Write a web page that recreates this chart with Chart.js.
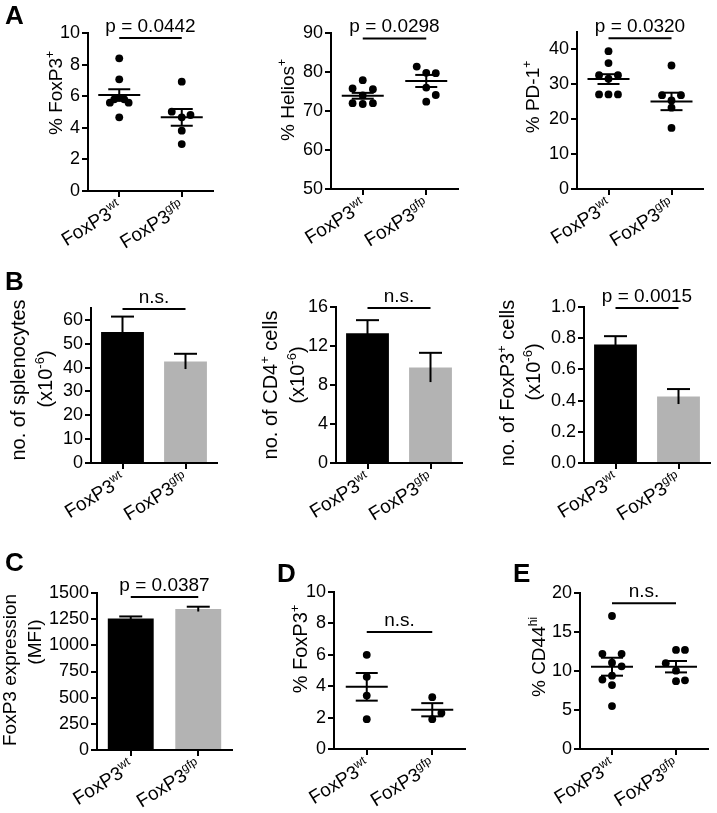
<!DOCTYPE html>
<html><head><meta charset="utf-8">
<script src="https://cdn.jsdelivr.net/npm/chart.js@4.4.1/dist/chart.umd.min.js"></script>
<style>
html,body{margin:0;padding:0;background:#fff;}
#wrap{position:relative;width:717px;height:813px;overflow:hidden;background:#fff;}
canvas{position:absolute;}
</style></head><body><div id="wrap"></div>
<script>
// ---------- categories ----------
const groupBase = 'FoxP3';
const groupSup = ['wt', 'gfp'];

// ---------- Panel A: dot plots ----------
const aFoxp3Wt = [8.4, 7.07, 5.59, 5.8, 5.9, 5.8, 5.59, 4.66];
const aFoxp3Gfp = [6.92, 5.02, 4.66, 4.81, 3.82, 2.97];
const aFoxp3Mean = [6.08, 4.66];
const aFoxp3Sem = [0.36, 0.53];
const aFoxp3Ticks = [0, 2, 4, 6, 8, 10];

const aHeliosWt = [77.9, 75.8, 75.6, 74.0, 72.0, 71.8, 72.0];
const aHeliosGfp = [81.4, 79.8, 79.7, 76.0, 74.1, 72.4];
const aHeliosMean = [73.9, 77.7];
const aHeliosSem = [0.75, 1.55];
const aHeliosTicks = [50, 60, 70, 80, 90];

const aPd1Wt = [39.5, 36.1, 32.6, 31.6, 32.6, 27.1, 27.1, 27.1];
const aPd1Gfp = [35.4, 26.9, 25.4, 26.9, 23.3, 17.5];
const aPd1Mean = [31.5, 25.1];
const aPd1Sem = [1.4, 2.5];
const aPd1Ticks = [0, 10, 20, 30, 40];

// ---------- Panel B: bar charts ----------
const bSplenoMean = [54.9, 42.6];
const bSplenoSem = [6.5, 3.2];
const bSplenoTicks = [0, 10, 20, 30, 40, 50, 60];

const bCd4Mean = [13.3, 9.8];
const bCd4Sem = [1.35, 1.5];
const bCd4Ticks = [0, 4, 8, 12, 16];

const bFoxp3Mean = [0.76, 0.426];
const bFoxp3Sem = [0.053, 0.048];
const bFoxp3Ticks = [0, 0.2, 0.4, 0.6, 0.8, 1.0];

// ---------- Panel C: bar chart ----------
const cMfiMean = [1256, 1346];
const cMfiSem = [20, 23];
const cMfiTicks = [0, 250, 500, 750, 1000, 1250, 1500];

// ---------- Panel D: dot plot ----------
const dFoxp3Wt = [6.0, 4.6, 3.4, 1.9];
const dFoxp3Gfp = [3.3, 2.3, 1.9];
const dFoxp3Mean = [3.96, 2.5];
const dFoxp3Sem = [0.88, 0.42];
const dFoxp3Ticks = [0, 2, 4, 6, 8, 10];

// ---------- Panel E: dot plot ----------
const eCd44Wt = [17.05, 12.2, 12.2, 11.06, 10.6, 8.9, 9.4, 8.2, 5.5];
const eCd44Gfp = [12.7, 12.7, 11.0, 10.04, 8.7, 8.8];
const eCd44Mean = [10.55, 10.55];
const eCd44Sem = [1.15, 0.73];
const eCd44Ticks = [0, 5, 10, 15, 20];

// ---------- significance labels ----------
const sigLabels = ['p = 0.0442', 'p = 0.0298', 'p = 0.0320', 'n.s.', 'n.s.', 'p = 0.0015', 'p = 0.0387', 'n.s.', 'n.s.'];

// ---------- styling: horizontal dot spread (fraction of category spacing) ----------
const spread = {
  aFoxp3Wt: [0, 0, -0.15, -0.08, 0, 0.08, 0.15, 0],
  aFoxp3Gfp: [0, -0.16, 0, 0.14, 0, 0],
  aHeliosWt: [0, -0.16, 0.16, 0, -0.16, 0, 0.16],
  aHeliosGfp: [-0.15, 0, 0.15, 0, 0.15, 0],
  aPd1Wt: [0, 0, -0.15, 0, 0.15, -0.15, 0, 0.15],
  aPd1Gfp: [0, -0.15, 0, 0.15, 0, 0],
  dFoxp3Wt: [0, 0, 0, 0],
  dFoxp3Gfp: [0, 0.14, 0],
  eCd44Wt: [0, -0.15, 0.15, 0, 0.15, -0.15, 0, 0, 0],
  eCd44Gfp: [0, 0.14, -0.16, 0, 0, 0.14]
};

const FONT = '"Liberation Sans", Arial, Helvetica, sans-serif';
function fnt(size, bold) { return (bold ? 'bold ' : '') + size + 'px ' + FONT; }
Chart.defaults.font.family = FONT;
Chart.defaults.color = '#000';

function drawRich(ctx, segs, size, x, y, angle, align, baseShift) {
  ctx.save();
  ctx.translate(x, y);
  ctx.rotate(angle);
  const supSize = Math.round(size * 0.64);
  let w = 0;
  const ws = segs.map(s => { ctx.font = fnt(s.sup ? supSize : size); const m = ctx.measureText(s.t).width; w += m; return m; });
  let cx = align === 'center' ? -w / 2 : (align === 'right' ? -w : 0);
  ctx.textAlign = 'left'; ctx.textBaseline = 'alphabetic'; ctx.fillStyle = '#000';
  segs.forEach((s, i) => {
    ctx.font = fnt(s.sup ? supSize : size);
    ctx.fillText(s.t, cx, baseShift + (s.sup ? -size * 0.4 : 0));
    cx += ws[i];
  });
  ctx.restore();
}

const wrap = document.getElementById('wrap');
const YW = 60, XH = 10;
const TICK_FONT = 18;
const SIG_FONT = 19;
const XLAB_FONT = 19;

function makePanel(cfg) {
  const [px, py, pw, ph] = cfg.box;
  const [x0, y0, x1, y1] = cfg.plot;
  const cv = document.createElement('canvas');
  cv.width = pw; cv.height = ph;
  cv.style.left = px + 'px'; cv.style.top = py + 'px';
  cv.style.width = pw + 'px'; cv.style.height = ph + 'px';
  wrap.appendChild(cv);
  const padding = { left: x0 - px - YW, top: y0 - py, right: px + pw - x1, bottom: py + ph - y1 - XH };
  const isBar = cfg.kind === 'bar';

  const axisCommon = {
    grid: { drawOnChartArea: false, color: '#000', lineWidth: 2, tickLength: 6 },
    border: { display: true, color: '#000', width: 2 }
  };

  const yScale = Object.assign({
    type: 'linear', min: cfg.yMin, max: cfg.yMax,
    afterFit: s => { s.width = YW; },
    afterBuildTicks: s => { s.ticks = cfg.yTicks.map(v => ({ value: v })); },
    ticks: { color: '#000', font: { size: TICK_FONT }, padding: 2,
      callback: v => (cfg.fmt ? Number(v).toFixed(cfg.fmt) : String(v)) }
  }, axisCommon);

  let xScale;
  if (isBar) {
    xScale = Object.assign({}, axisCommon, {
      type: 'category', offset: true,
      afterFit: s => { s.height = XH; },
      ticks: { display: false },
      grid: Object.assign({}, axisCommon.grid, { offset: false })
    });
  } else {
    xScale = Object.assign({
      type: 'linear', min: 0.5, max: 2.5,
      afterFit: s => { s.height = XH; },
      afterBuildTicks: s => { s.ticks = [{ value: 1 }, { value: 2 }]; },
      ticks: { display: false }
    }, axisCommon);
  }

  let data;
  if (isBar) {
    data = {
      labels: groupSup,
      datasets: [{ data: cfg.mean, backgroundColor: ['#000000', '#b3b3b3'], borderWidth: 0,
        barPercentage: 0.68, categoryPercentage: 1 }]
    };
  } else {
    data = {
      datasets: cfg.groups.map((g, gi) => ({
        data: g.map((v, k) => ({ x: gi + 1 + cfg.spread[gi][k], y: v })),
        pointRadius: 3.9, pointBackgroundColor: '#000', pointBorderWidth: 0,
        pointHoverRadius: 3.9, showLine: false, clip: false
      }))
    };
  }

  const deco = {
    id: 'deco',
    afterDraw(chart) {
      const ctx = chart.ctx;
      const xs = chart.scales.x, ys = chart.scales.y;
      const cxOf = i => isBar ? chart.getDatasetMeta(0).data[i].x : xs.getPixelForValue(i + 1);
      ctx.save();
      ctx.strokeStyle = '#000'; ctx.lineWidth = 2; ctx.lineCap = 'butt';
      const line = (a, b, c, d) => { ctx.beginPath(); ctx.moveTo(a, b); ctx.lineTo(c, d); ctx.stroke(); };
      for (let i = 0; i < 2; i++) {
        const cx = cxOf(i);
        const m = ys.getPixelForValue(cfg.mean[i]);
        const u = ys.getPixelForValue(cfg.mean[i] + cfg.sem[i]);
        const l = ys.getPixelForValue(cfg.mean[i] - cfg.sem[i]);
        if (isBar) {
          line(cx, l, cx, u);
          line(cx - 11.5, u, cx + 11.5, u);
        } else {
          line(cx - 21, m, cx + 21, m);
          line(cx, u, cx, l);
          line(cx - 11, u, cx + 11, u);
          line(cx - 11, l, cx + 11, l);
        }
      }
      // significance bracket
      const sy = ys.getPixelForValue(cfg.sigY);
      const c0 = cxOf(0), c1 = cxOf(1);
      line(c0, sy, c1, sy);
      ctx.fillStyle = '#000';
      ctx.font = fnt(SIG_FONT);
      ctx.textAlign = 'center'; ctx.textBaseline = 'alphabetic';
      ctx.fillText(cfg.sig, (c0 + c1) / 2, sy - 6);
      // x labels
      const ay = chart.chartArea.bottom;
      for (let i = 0; i < 2; i++) {
        drawRich(ctx, [{ t: groupBase }, { t: groupSup[i], sup: true }], XLAB_FONT,
          cxOf(i) + 4, ay + 20, -32 * Math.PI / 180, 'right', 0);
      }
      // y title
      cfg.yTitle.forEach(ln => {
        drawRich(ctx, ln.segs, ln.size, ln.cx - px, ln.cy - py, -Math.PI / 2, 'center', ln.size * 0.35);
      });
      // panel letter
      if (cfg.letter) {
        ctx.font = fnt(26, true);
        ctx.textAlign = 'left'; ctx.textBaseline = 'alphabetic';
        ctx.fillText(cfg.letter[0], cfg.letter[1] - px, cfg.letter[2] - py);
      }
      ctx.restore();
    }
  };

  new Chart(cv, {
    type: isBar ? 'bar' : 'scatter',
    data,
    options: {
      responsive: false, animation: false, devicePixelRatio: 1,
      layout: { padding },
      plugins: { legend: { display: false }, tooltip: { enabled: false } },
      scales: { x: xScale, y: yScale }
    },
    plugins: [deco]
  });
}

const sup = (t) => ({ t, sup: true });
const txt = (t) => ({ t });

// ---- Row A ----
makePanel({ kind: 'dot', box: [0, 0, 235, 270], plot: [88, 33, 213, 191],
  yMin: 0, yMax: 10, yTicks: aFoxp3Ticks, groups: [aFoxp3Wt, aFoxp3Gfp],
  spread: [spread.aFoxp3Wt, spread.aFoxp3Gfp], mean: aFoxp3Mean, sem: aFoxp3Sem,
  sigY: 9.68, sig: sigLabels[0],
  yTitle: [{ segs: [txt('% FoxP3'), sup('+')], size: 19, cx: 55, cy: 93 }],
  letter: ['A', 5, 24] });

makePanel({ kind: 'dot', box: [235, 0, 235, 270], plot: [331, 33, 458, 189],
  yMin: 50, yMax: 90, yTicks: aHeliosTicks, groups: [aHeliosWt, aHeliosGfp],
  spread: [spread.aHeliosWt, spread.aHeliosGfp], mean: aHeliosMean, sem: aHeliosSem,
  sigY: 88.6, sig: sigLabels[1],
  yTitle: [{ segs: [txt('% Helios'), sup('+')], size: 19, cx: 287, cy: 100 }] });

makePanel({ kind: 'dot', box: [470, 0, 247, 270], plot: [577, 32, 703, 189],
  yMin: 0, yMax: 45, yTicks: aPd1Ticks, groups: [aPd1Wt, aPd1Gfp],
  spread: [spread.aPd1Wt, spread.aPd1Gfp], mean: aPd1Mean, sem: aPd1Sem,
  sigY: 43.2, sig: sigLabels[2],
  yTitle: [{ segs: [txt('% PD-1'), sup('+')], size: 19, cx: 532, cy: 97 }] });

// ---- Row B ----
makePanel({ kind: 'bar', box: [0, 270, 235, 280], plot: [91, 308, 217, 463],
  yMin: 0, yMax: 65, yTicks: bSplenoTicks, mean: bSplenoMean, sem: bSplenoSem,
  sigY: 64.6, sig: sigLabels[3],
  yTitle: [{ segs: [txt('no. of splenocytes')], size: 20, cx: 18, cy: 380 },
           { segs: [txt('(x10'), sup('-6'), txt(')')], size: 20, cx: 45, cy: 379 }],
  letter: ['B', 5, 290] });

makePanel({ kind: 'bar', box: [235, 270, 235, 280], plot: [336, 307, 462, 463],
  yMin: 0, yMax: 16, yTicks: bCd4Ticks, mean: bCd4Mean, sem: bCd4Sem,
  sigY: 15.9, sig: sigLabels[4],
  yTitle: [{ segs: [txt('no. of CD4'), sup('+'), txt(' cells')], size: 20, cx: 270, cy: 385 },
           { segs: [txt('(x10'), sup('-6'), txt(')')], size: 20, cx: 297, cy: 375 }] });

makePanel({ kind: 'bar', box: [470, 270, 247, 280], plot: [584, 307, 710, 463],
  yMin: 0, yMax: 1.0, yTicks: bFoxp3Ticks, fmt: 1, mean: bFoxp3Mean, sem: bFoxp3Sem,
  sigY: 0.994, sig: sigLabels[5],
  yTitle: [{ segs: [txt('no. of FoxP3'), sup('+'), txt(' cells')], size: 20, cx: 507, cy: 383 },
           { segs: [txt('(x10'), sup('-6'), txt(')')], size: 20, cx: 533, cy: 372 }] });

// ---- Row C/D/E ----
makePanel({ kind: 'bar', box: [0, 550, 240, 263], plot: [97, 593, 232, 750],
  yMin: 0, yMax: 1500, yTicks: cMfiTicks, mean: cMfiMean, sem: cMfiSem,
  sigY: 1462, sig: sigLabels[6],
  yTitle: [{ segs: [txt('FoxP3 expression')], size: 19, cx: 9, cy: 670 },
           { segs: [txt('(MFI)')], size: 19, cx: 34, cy: 642 }],
  letter: ['C', 5, 571] });

makePanel({ kind: 'dot', box: [240, 550, 235, 263], plot: [334, 592, 465, 749],
  yMin: 0, yMax: 10, yTicks: dFoxp3Ticks, groups: [dFoxp3Wt, dFoxp3Gfp],
  spread: [spread.dFoxp3Wt, spread.dFoxp3Gfp], mean: dFoxp3Mean, sem: dFoxp3Sem,
  sigY: 7.45, sig: sigLabels[7],
  yTitle: [{ segs: [txt('% FoxP3'), sup('+')], size: 20, cx: 300, cy: 649 }],
  letter: ['D', 277, 582] });

makePanel({ kind: 'dot', box: [475, 550, 242, 263], plot: [580, 593, 708, 749],
  yMin: 0, yMax: 20, yTicks: eCd44Ticks, groups: [eCd44Wt, eCd44Gfp],
  spread: [spread.eCd44Wt, spread.eCd44Gfp], mean: eCd44Mean, sem: eCd44Sem,
  sigY: 18.7, sig: sigLabels[8],
  yTitle: [{ segs: [txt('% CD44'), sup('hi')], size: 19, cx: 538, cy: 657 }],
  letter: ['E', 513, 582] });
</script>
</body></html>
